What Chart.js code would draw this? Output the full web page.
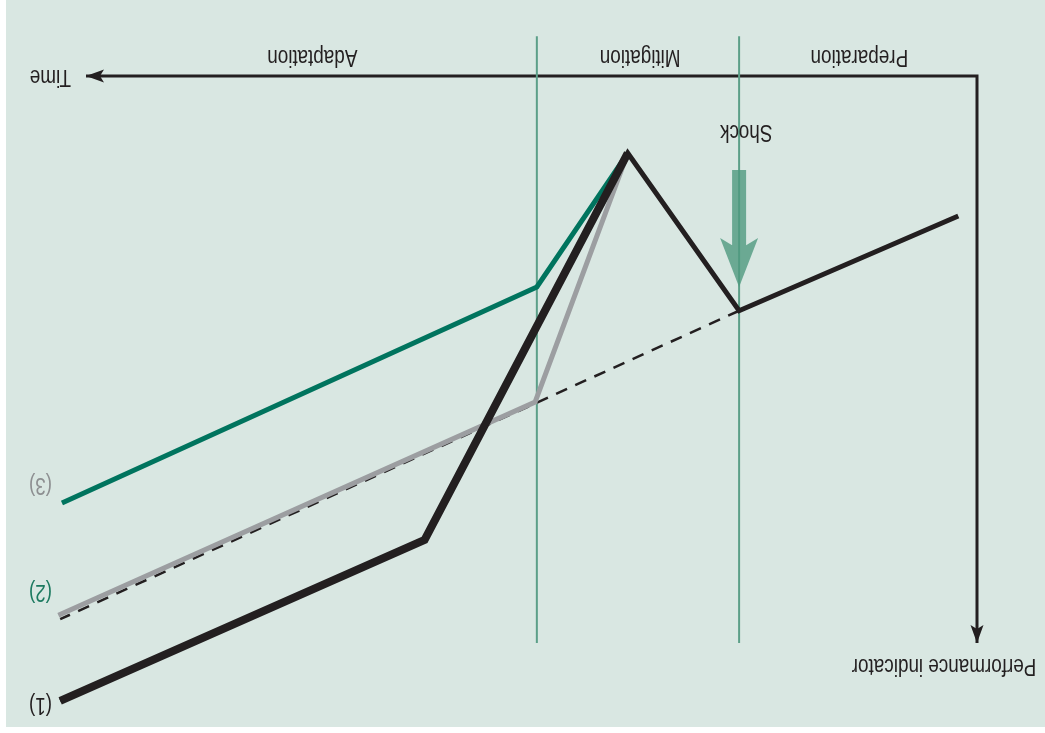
<!DOCTYPE html>
<html>
<head>
<meta charset="utf-8">
<script src="https://cdn.jsdelivr.net/npm/chart.js@4.4.1/dist/chart.umd.min.js"></script>
<style>
  html, body { margin: 0; padding: 0; background: #ffffff; }
  #wrap { position: relative; width: 1045px; height: 733px; overflow: hidden; }
  #panel { position: absolute; left: 6px; top: 0; width: 1039px; height: 727px; background: #d9e7e2; }
  #diagram { position: absolute; left: 0; top: 0; transform: rotate(180deg); }
</style>
</head>
<body>
<div id="wrap">
  <div id="panel"></div>
  <canvas id="diagram" width="1045" height="733"></canvas>
</div>
<script>
// Resilience phases of a system: performance indicator over time, with a shock.

// Shared path: steady growth, shock, drop to the low point
const commonTime = [2.1, 26.7, 39.2];
const commonPerf = [24.7, 41.4, 13.6];

// Recovery scenarios after the low point
const line1Time = [39.2, 62.0, 102.9];
const line1Perf = [13.6, 81.8, 110.2];
const line2Time = [39.2, 49.6, 103.1];
const line2Perf = [13.6, 57.5, 95.1];
const line3Time = [39.2, 49.4, 102.7];
const line3Perf = [13.6, 37.2, 75.3];

// Pre-shock trend continued
const trendTime = [26.7, 102.9];
const trendPerf = [41.4, 95.8];

// Phases
const phaseNames = ['Preparation', 'Mitigation', 'Adaptation'];
const phaseLabelTime = [13.2, 37.8, 74.6];
const phaseLabelPerf = -3.4;
const phaseBounds = [26.7, 49.4];
const phaseLineSpan = [-7, 100];

// Scenario tags
const scenarioTags = ['(1)', '(2)', '(3)'];
const scenarioTagPerf = [110.8, 90.9, 72.1];
const scenarioTagTime = 105.1;

// Axes
const axisLength = 100;
const timeLabel = 'Time';
const perfLabel = 'Performance indicator';
const timeLabelPos = [104.0, 0];
const perfLabelPos = [3.7, 103.9];

// Shock
const shockLabel = 'Shock';
const shockLabelPos = [25.9, 9.7];
const shockTime = 26.7;
const shockArrowPerf = [16.6, 37.2];

// Visible ranges of the two axes
const timeRange = [-7.632, 109.652];
const perfRange = [-13.404, 115.873];

const INK = '#231f20';
const GREY = '#9c9ea1';
const GREEN = '#00745e';
const PHASE = '#5c9f88';
const TAG_COLORS = [INK, '#1c7a60', '#8d8f91'];

const pts = (xs, ys) => xs.map((x, i) => ({ x: x, y: ys[i] }));

// Narrow sans if installed, otherwise a horizontally condensed sans
const narrowAvailable = (() => {
  const c = document.createElement('canvas').getContext('2d');
  c.font = "40px 'Liberation Sans Narrow', monospace";
  const a = c.measureText('Adaptation mmm').width;
  c.font = '40px monospace';
  const b = c.measureText('Adaptation mmm').width;
  return Math.abs(a - b) > 0.5;
})();
const FONT_SIZE = 23;

function drawText(ctx, text, x, y, color, align) {
  ctx.save();
  ctx.fillStyle = color;
  ctx.textBaseline = 'middle';
  ctx.textAlign = align || 'center';
  if (narrowAvailable) {
    ctx.font = FONT_SIZE + "px 'Liberation Sans Narrow', 'Arial Narrow', sans-serif";
    ctx.fillText(text, x, y);
  } else {
    ctx.font = FONT_SIZE + "px 'Liberation Sans', Arial, sans-serif";
    ctx.translate(x, y);
    ctx.scale(0.82, 1);
    ctx.fillText(text, 0, 0);
  }
  ctx.restore();
}

function arrowHead(ctx, tipX, tipY, dirX, dirY, len, half, notch, color) {
  const px = -dirY, py = dirX;
  ctx.save();
  ctx.fillStyle = color;
  ctx.beginPath();
  ctx.moveTo(tipX, tipY);
  ctx.lineTo(tipX - dirX * len + px * half, tipY - dirY * len + py * half);
  ctx.lineTo(tipX - dirX * (len - notch), tipY - dirY * (len - notch));
  ctx.lineTo(tipX - dirX * len - px * half, tipY - dirY * len - py * half);
  ctx.closePath();
  ctx.fill();
  ctx.restore();
}

const overlay = {
  id: 'diagramOverlay',
  afterDatasetsDraw(chart) {
    const ctx = chart.ctx;
    const sx = chart.scales.x, sy = chart.scales.y;

    // axis arrowheads
    const ox = sx.getPixelForValue(0), oy = sy.getPixelForValue(0);
    arrowHead(ctx, sx.getPixelForValue(axisLength), oy, 1, 0, 18, 6.5, 4, INK);
    arrowHead(ctx, ox, sy.getPixelForValue(axisLength), 0, -1, 18, 6.5, 4, INK);

    // shock arrow
    const ax = sx.getPixelForValue(shockTime);
    const tail = sy.getPixelForValue(shockArrowPerf[0]);
    const tip = sy.getPixelForValue(shockArrowPerf[1]);
    const shaftHalf = 7, headHalf = 19, headLen = 49, notchLen = 29;
    const base = tip + headLen, notch = tip + notchLen;
    const join = base - (base - notch) * (shaftHalf / headHalf);
    ctx.save();
    ctx.fillStyle = 'rgba(79,154,128,0.8)';
    ctx.beginPath();
    ctx.moveTo(ax - shaftHalf, tail);
    ctx.lineTo(ax - shaftHalf, join);
    ctx.lineTo(ax - headHalf, base);
    ctx.lineTo(ax, tip);
    ctx.lineTo(ax + headHalf, base);
    ctx.lineTo(ax + shaftHalf, join);
    ctx.lineTo(ax + shaftHalf, tail);
    ctx.closePath();
    ctx.fill();
    ctx.restore();
  },
  afterDraw(chart) {
    const ctx = chart.ctx;
    const sx = chart.scales.x, sy = chart.scales.y;
    const X = v => sx.getPixelForValue(v), Y = v => sy.getPixelForValue(v);

    phaseNames.forEach((name, i) => drawText(ctx, name, X(phaseLabelTime[i]), Y(phaseLabelPerf), INK));
    scenarioTags.forEach((tag, i) => drawText(ctx, tag, X(scenarioTagTime), Y(scenarioTagPerf[i]), TAG_COLORS[i]));
    drawText(ctx, timeLabel, X(timeLabelPos[0]), Y(timeLabelPos[1]), INK);
    drawText(ctx, perfLabel, X(perfLabelPos[0]), Y(perfLabelPos[1]), INK);
    drawText(ctx, shockLabel, X(shockLabelPos[0]), Y(shockLabelPos[1]), INK);
  }
};

const lineDefaults = { showLine: true, pointRadius: 0, borderJoinStyle: 'miter', borderCapStyle: 'butt', tension: 0, fill: false };

const datasets = [
  Object.assign({}, lineDefaults, { label: '(1)', data: pts(line1Time, line1Perf), borderColor: INK, borderWidth: 8, order: 1 }),
  Object.assign({}, lineDefaults, { label: 'path (1)', data: pts(commonTime.concat(line1Time.slice(1)), commonPerf.concat(line1Perf.slice(1))), borderColor: INK, borderWidth: 5, order: 2 }),
  Object.assign({}, lineDefaults, { label: '(3)', data: pts(line3Time, line3Perf), borderColor: GREEN, borderWidth: 5, order: 3 }),
  Object.assign({}, lineDefaults, { label: '(2)', data: pts(line2Time, line2Perf), borderColor: GREY, borderWidth: 5, order: 4 }),
  Object.assign({}, lineDefaults, { label: 'trend', data: pts(trendTime, trendPerf), borderColor: INK, borderWidth: 2.5, borderDash: [12, 9], order: 5 })
];
phaseBounds.forEach((t, i) => {
  datasets.push(Object.assign({}, lineDefaults, {
    label: 'phase ' + (i + 1),
    data: pts([t, t], phaseLineSpan),
    borderColor: PHASE, borderWidth: 2, order: 6
  }));
});
datasets.push(Object.assign({}, lineDefaults, {
  label: 'axes',
  data: pts([axisLength, 0, 0], [0, 0, axisLength]),
  borderColor: INK, borderWidth: 3, order: 7
}));

new Chart(document.getElementById('diagram'), {
  type: 'scatter',
  data: { datasets: datasets },
  options: {
    responsive: false,
    animation: false,
    devicePixelRatio: 1,
    layout: { padding: 0 },
    plugins: { legend: { display: false }, tooltip: { enabled: false } },
    events: [],
    scales: {
      x: { type: 'linear', min: timeRange[0], max: timeRange[1], display: false },
      y: { type: 'linear', min: perfRange[0], max: perfRange[1], display: false }
    }
  },
  plugins: [overlay]
});
</script>
</body>
</html>
